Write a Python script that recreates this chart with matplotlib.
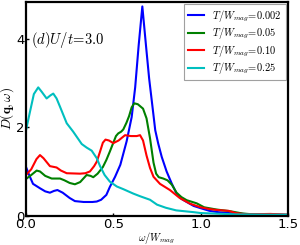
import matplotlib
matplotlib.use("Agg")
import matplotlib.pyplot as plt

plt.rcParams['mathtext.fontset'] = 'cm'

labels = [r"$T/W_{mag}\!=\!0.002$", r"$T/W_{mag}\!=\!0.05$",
          r"$T/W_{mag}\!=\!0.10$", r"$T/W_{mag}\!=\!0.25$"]
colors = ["#0000ff", "#008000", "#ff0000", "#00bfbf"]

blue_x = [0.0, 0.02, 0.04, 0.08, 0.11, 0.137, 0.16, 0.18, 0.21, 0.25, 0.28, 0.33, 0.38, 0.405,
          0.43, 0.46, 0.48, 0.51, 0.54, 0.576, 0.605, 0.625, 0.645, 0.666, 0.688, 0.705, 0.72,
          0.729, 0.74, 0.757, 0.777, 0.805, 0.834, 0.862, 0.89, 0.92, 0.96, 1.0, 1.05, 1.1,
          1.19, 1.3, 1.5]
blue_y = [1.1, 0.9, 0.72, 0.62, 0.55, 0.52, 0.56, 0.58, 0.52, 0.4, 0.33, 0.31, 0.31, 0.32,
          0.36, 0.47, 0.65, 0.88, 1.15, 1.68, 2.23, 2.9, 3.85, 4.73, 3.8, 3.1, 2.6,
          2.3, 1.93, 1.63, 1.33, 1.0, 0.73, 0.5, 0.38, 0.31, 0.22, 0.17, 0.11, 0.08,
          0.05, 0.03, 0.02]

green_x = [0.0, 0.03, 0.061, 0.08, 0.11, 0.147, 0.195, 0.22, 0.25, 0.28, 0.31, 0.347, 0.37,
           0.385, 0.41, 0.44, 0.46, 0.48, 0.5, 0.515, 0.528, 0.545, 0.557, 0.575, 0.59, 0.605,
           0.62, 0.64, 0.67, 0.69, 0.71, 0.73, 0.745, 0.76, 0.786, 0.81, 0.835, 0.862, 0.89,
           0.92, 0.977, 1.02, 1.09, 1.17, 1.24, 1.3, 1.5]
green_y = [0.83, 0.92, 1.02, 1.0, 0.9, 0.84, 0.84, 0.8, 0.74, 0.71, 0.76, 0.92, 0.9,
           0.87, 0.95, 1.1, 1.26, 1.45, 1.65, 1.8, 1.86, 1.9, 1.95, 2.1, 2.25, 2.45,
           2.54, 2.52, 2.42, 2.2, 1.75, 1.2, 0.95, 0.87, 0.84, 0.8, 0.7, 0.52, 0.42,
           0.35, 0.28, 0.19, 0.14, 0.1, 0.05, 0.03, 0.02]

red_x = [0.0, 0.03, 0.06, 0.08, 0.1, 0.137, 0.175, 0.2, 0.233, 0.31, 0.34, 0.366, 0.39, 0.405,
         0.424, 0.44, 0.455, 0.475, 0.5, 0.53, 0.567, 0.6, 0.634, 0.653, 0.67, 0.69, 0.71,
         0.73, 0.767, 0.824, 0.88, 0.94, 1.0, 1.05, 1.09, 1.16, 1.2, 1.26, 1.4, 1.5]
red_y = [0.92, 1.05, 1.28, 1.37, 1.3, 1.12, 1.09, 1.02, 0.96, 0.95, 0.96, 1.0, 1.12, 1.22,
         1.45, 1.65, 1.72, 1.7, 1.64, 1.7, 1.82, 1.8, 1.8, 1.82, 1.7, 1.36, 1.08,
         0.88, 0.72, 0.58, 0.4, 0.27, 0.19, 0.15, 0.13, 0.11, 0.06, 0.03, 0.04, 0.02]

cyan_x = [0.0, 0.02, 0.045, 0.07, 0.09, 0.118, 0.14, 0.156, 0.175, 0.195, 0.233, 0.27, 0.319,
          0.347, 0.376, 0.405, 0.424, 0.45, 0.48, 0.52, 0.557, 0.614, 0.653, 0.71, 0.75, 0.8,
          0.86, 0.96, 1.0, 1.2, 1.5]
cyan_y = [1.93, 2.3, 2.75, 2.9, 2.8, 2.65, 2.72, 2.76, 2.65, 2.46, 2.09, 1.9, 1.62,
          1.54, 1.47, 1.3, 1.12, 0.92, 0.77, 0.66, 0.6, 0.5, 0.44, 0.36, 0.25, 0.18,
          0.12, 0.08, 0.06, 0.03, 0.02]

xticks = [0.0, 0.5, 1.0, 1.5]
xticklabels = ["0.0", "0.5", "1.0", "1.5"]
yticks = [0, 2, 4]
yticklabels = ["0", "2", "4"]

fig = plt.figure(figsize=(3.0, 2.45), dpi=100)
ax = fig.add_axes([0.0867, 0.1196, 0.8733, 0.8722])

series = [(blue_x, blue_y), (green_x, green_y), (red_x, red_y), (cyan_x, cyan_y)]
for (xs, ys), c, lab in zip(series, colors, labels):
    ax.plot(xs, ys, color=c, lw=1.5, label=lab)

ax.set_xlim(0, 1.5)
ax.set_ylim(0, 4.83)
ax.set_xticks(xticks)
ax.set_xticklabels(xticklabels)
ax.set_yticks(yticks)
ax.set_yticklabels(yticklabels)
ax.tick_params(direction='in', length=2, width=1, labelsize=9.5)
ax.tick_params(axis='y', pad=1)
ax.tick_params(axis='x', pad=1.5)
for s in ax.spines.values():
    s.set_linewidth(1.6)

ax.set_ylabel(r"$D(\mathbf{q},\omega)$", fontsize=9.5)
ax.yaxis.set_label_coords(-0.037, 0.5)
ax.set_xlabel(r"$\omega/W_{mag}$", fontsize=7.5)
ax.xaxis.set_label_coords(0.5, -0.068)

ax.text(0.02, 0.822, r"$(d)U/t\!=\!\mathbf{3.0}$", transform=ax.transAxes,
        fontsize=10.5, va='center', ha='left')

leg = ax.legend(loc='upper right', fontsize=7.5, handlelength=1.6, handletextpad=0.75,
                borderaxespad=0.2, fancybox=False, labelspacing=0.15, borderpad=0.4)
leg.get_frame().set_edgecolor('#888888')
leg.get_frame().set_linewidth(0.8)

fig.savefig("out.png", dpi=100)
